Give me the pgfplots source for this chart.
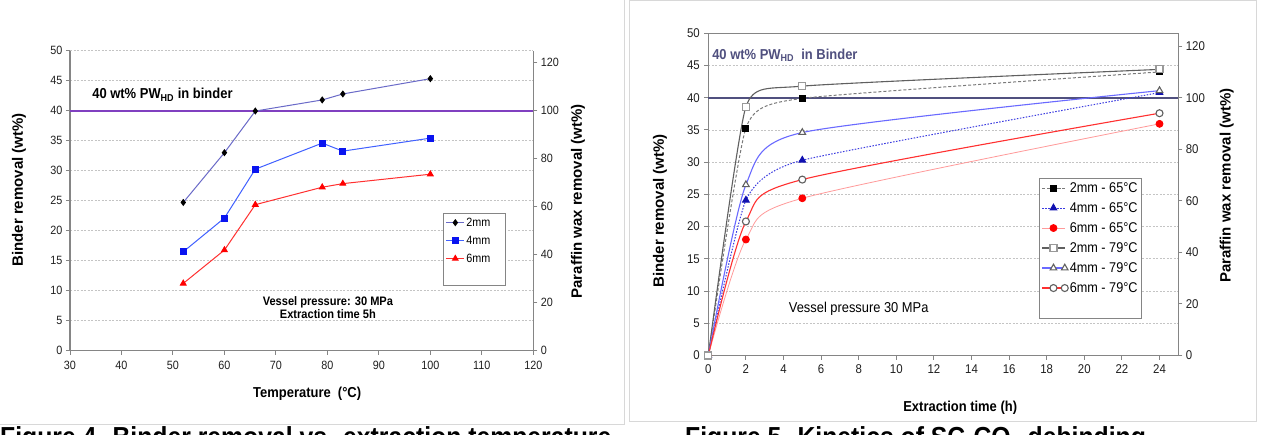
\documentclass[border=0pt]{standalone}
\usepackage{fontspec}
\setmainfont{Liberation Sans}[FakeStretch=0.9]
\newfontfamily\uprightlabel{Liberation Sans}
\usepackage{pgfplots}
\pgfplotsset{compat=1.18}

\definecolor{axisgray}{HTML}{858585}
\definecolor{gridgray}{HTML}{C4C4C4}
\definecolor{framegray}{HTML}{D8D8D8}
\definecolor{purpleline}{HTML}{8040C0}
\definecolor{slateline}{HTML}{50507F}
\definecolor{lavline}{HTML}{6A6AC8}
\definecolor{bluemark}{HTML}{0A14F0}
\definecolor{blueline}{HTML}{4060FF}
\definecolor{redline}{HTML}{FF3030}
\definecolor{pinkline}{HTML}{FF9A9A}
\definecolor{grayline}{HTML}{606060}
\definecolor{dashgray}{HTML}{7A7A7A}
\definecolor{solidblue}{HTML}{6A6AFF}
\definecolor{dotblue}{HTML}{3A3AE0}
\definecolor{navymark}{HTML}{1010B0}
\definecolor{ticktext}{HTML}{202020}

\newcommand{\fs}[1]{\fontsize{#1}{#1}\selectfont}

\pgfplotsset{
  excelaxis/.style={
    scale only axis,
    anchor=south west,
    axis line style={draw=axisgray, line width=1.3pt, -},
    tick align=outside,
    major tick length=4pt,
    tick style={draw=axisgray, line width=1pt},
    /pgf/number format/assume math mode=true,
    ticklabel style={text=ticktext},
  },
}

\begin{document}
\begin{tikzpicture}[x=1pt,y=1pt]
\useasboundingbox (0,0) rectangle (1261,434);
\fill[white] (0,0) rectangle (1261,434);

% panel frames
\draw[framegray, line width=1pt] (-5,10) rectangle (624.5,440);
\draw[framegray, line width=1pt] (629,12.3) rectangle (1256,433);

% figure captions (running off the lower edge)
\node[anchor=base west, inner sep=0pt, font=\bfseries\fs{27.5}] at (0,-12.7)
  {Figure 4. Binder removal vs. extraction temperature};
\node[anchor=base west, inner sep=0pt, font=\bfseries\fs{27.5}] at (685,-12.7)
  {Figure 5. Kinetics of SC-CO\textsubscript{2} debinding};

% ---------------- Figure 4: binder removal vs temperature ----------------
\begin{axis}[excelaxis,
  at={(70pt,83.5pt)}, width=463.3pt, height=299.7pt,
  xmin=30, xmax=120, ymin=0, ymax=50,
  xtick={30,40,...,120}, ytick={0,5,...,50},
  axis lines*=left,
  ymajorgrids,
  grid style={draw=gridgray, dash pattern=on 2pt off 1.5pt, line width=0.8pt},
  ticklabel style={font=\fs{12}},
  xticklabel style={yshift=-3pt},
  xlabel={Temperature\ \ (°C)},
  xlabel style={font=\bfseries\fs{14.4}, at={(axis description cs:0.512,-0.146)}, anchor=center},
  ylabel={Binder removal (wt\%)},
  ylabel style={font=\uprightlabel\bfseries\fs{15}, at={(axis description cs:-0.110,0.536)}, anchor=center, rotate=0},
  legend style={at={(axis description cs:0.806,0.458)}, anchor=north west,
    draw=axisgray, line width=0.8pt, fill=white,
    font=\fs{12}, inner xsep=2pt, inner ysep=0pt, row sep=0pt,
    nodes={inner xsep=1.5pt, inner ysep=0pt, minimum height=18pt}},
  legend cell align=left,
  legend image code/.code={\draw[mark repeat=2,mark phase=2,#1] plot coordinates {(0pt,0pt) (9pt,0pt) (18pt,0pt)};},
]
\addplot[purpleline, line width=2pt, forget plot] coordinates {(30,40) (120,40)};

\addplot[lavline, line width=1pt, mark=diamond*, mark size=2.8pt,
  mark options={solid, fill=black, draw=black}]
  coordinates {(52,24.7) (60,33.0) (66,39.95) (79,41.8) (83,42.8) (100,45.35)};
\addlegendentry{\makebox[36pt][l]{2mm}}

\addplot[blueline, line width=1pt, mark=square*, mark size=3pt,
  mark options={solid, fill=bluemark, draw=bluemark}]
  coordinates {(52,16.47) (60,22.1) (66,30.25) (79,34.6) (83,33.26) (100,35.43)};
\addlegendentry{\makebox[36pt][l]{4mm}}

\addplot[redline, line width=1pt, mark=triangle*, mark size=3.2pt,
  mark options={solid, fill=red, draw=red}]
  coordinates {(52,11.19) (60,16.76) (66,24.33) (79,27.24) (83,27.84) (100,29.41)};
\addlegendentry{\makebox[36pt][l]{6mm}}

\addlegendimage{empty legend}
\addlegendentry{}

\node[anchor=west, inner sep=0pt, font=\bfseries\fs{14.4}] at (axis cs:34.3,42.67)
  {40 wt\% PW\textsubscript{HD} in binder};
\node[align=center, inner sep=0pt, font=\bfseries\fs{12.3}] at (axis cs:80.1,7.14)
  {Vessel pressure: 30 MPa\\Extraction time 5h};
\end{axis}

\begin{axis}[excelaxis,
  at={(70pt,83.5pt)}, width=463.3pt, height=299.7pt,
  xmin=30, xmax=120, ymin=0, ymax=125,
  axis x line=none, axis y line*=right,
  ytick={0,20,...,120},
  ticklabel style={font=\fs{12}},
  ylabel={Paraffin wax removal (wt\%)},
  ylabel style={font=\uprightlabel\bfseries\fs{15}, at={(axis description cs:1.0965,0.498)}, anchor=center, rotate=0},
]
\end{axis}

% ---------------- Figure 5: kinetics ----------------
\begin{axis}[excelaxis,
  at={(708.3pt,78.5pt)}, width=470pt, height=322.2pt,
  xmin=0, xmax=25, ymin=0, ymax=50,
  xtick={0,2,...,24}, ytick={0,5,...,50},
  tick pos=left,
  clip=false,
  ymajorgrids,
  grid style={draw=gridgray, dash pattern=on 2pt off 1.5pt, line width=0.8pt},
  ticklabel style={font=\fs{12.7}},
  xticklabel style={yshift=-2pt},
  yticklabel style={xshift=-1pt},
  xlabel={Extraction time (h)},
  xlabel style={font=\bfseries\fs{14.4}, at={(axis description cs:0.536,-0.161)}, anchor=center},
  ylabel={Binder removal (wt\%)},
  ylabel style={font=\uprightlabel\bfseries\fs{15}, at={(axis description cs:-0.103,0.449)}, anchor=center, rotate=0},
  legend style={at={(axis description cs:0.703,0.552)}, anchor=north west,
    draw=axisgray, line width=0.8pt, fill=white,
    font=\fs{14.1}, inner xsep=2.5pt, inner ysep=0pt, row sep=0pt,
    nodes={inner xsep=1.5pt, inner ysep=0pt, minimum height=20pt}},
  legend cell align=left,
  legend image code/.code={\draw[mark repeat=2,mark phase=2,#1] plot coordinates {(0pt,0pt) (11.3pt,0pt) (22.6pt,0pt)};},
]
\addplot[slateline, line width=2.2pt, forget plot] coordinates {(0,40) (25,40)};

\addplot[dashgray, line width=1pt, dash pattern=on 3pt off 2pt, smooth, tension=0.3,
  mark=square*, mark size=3pt, mark options={solid, fill=black, draw=black}]
  coordinates {(0,0) (2,35.3) (5,39.9) (24,44.0)};
\addlegendentry{2mm - 65°C}

\addplot[dotblue, line width=1pt, dash pattern=on 1.5pt off 1.5pt, smooth, tension=0.3,
  mark=triangle*, mark size=3.8pt, mark options={solid, fill=navymark, draw=navymark}]
  coordinates {(0,0) (2,24.1) (5,30.3) (24,40.8)};
\addlegendentry{4mm - 65°C}

\addplot[pinkline, line width=0.8pt, smooth, tension=0.45,
  mark=*, mark size=3.5pt, mark options={solid, fill=red, draw=red}]
  coordinates {(0,0) (2,18.0) (5,24.4) (24,35.95)};
\addlegendentry{6mm - 65°C}

\addplot[grayline, line width=1.1pt, smooth, tension=0.3,
  mark=square*, mark size=3.5pt, mark options={solid, fill=white, draw=gray!80}]
  coordinates {(0,0) (2,38.6) (5,41.8) (24,44.4)};
\addlegendentry{2mm - 79°C}

\addplot[solidblue, line width=1.1pt, smooth, tension=0.4,
  mark=triangle*, mark size=3.8pt, mark indices={2,3,4}, mark options={solid, fill=white, draw=grayline}]
  coordinates {(0,0) (2,26.5) (5,34.6) (24,41.1)};
\addlegendentry{4mm - 79°C}

\addplot[redline, line width=1.1pt, smooth, tension=0.45,
  mark=*, mark size=3.5pt, mark indices={2,3,4}, mark options={solid, fill=white, draw=grayline}]
  coordinates {(0,0) (2,20.8) (5,27.3) (24,37.6)};
\addlegendentry{6mm - 79°C}

\addlegendimage{empty legend}
\addlegendentry{}

\node[anchor=west, inner sep=0pt, text=slateline, font=\bfseries\fs{14.4}] at (axis cs:0.2,46.62)
  {40 wt\% PW\textsubscript{HD}\ \ in Binder};
\node[inner sep=0pt, font=\fs{14.3}] at (axis cs:8.0,7.17) {Vessel pressure 30 MPa};
\end{axis}

\begin{axis}[excelaxis,
  at={(708.3pt,78.5pt)}, width=470pt, height=322.2pt,
  xmin=0, xmax=25, ymin=0, ymax=125,
  axis x line=none, axis y line*=right,
  ytick={0,20,...,120},
  ticklabel style={font=\fs{12.7}},
  ylabel={Paraffin wax removal (wt\%)},
  ylabel style={font=\uprightlabel\bfseries\fs{15}, at={(axis description cs:1.103,0.527)}, anchor=center, rotate=0},
]
\end{axis}
\end{tikzpicture}
\end{document}
